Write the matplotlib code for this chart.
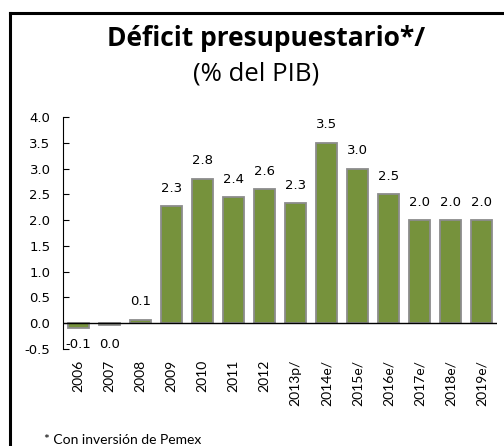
import numpy as np
import matplotlib
matplotlib.use("Agg")
import matplotlib.pyplot as plt
from matplotlib.lines import Line2D

# Deficit presupuestario (% del PIB), con inversion de Pemex
anios = ["2006", "2007", "2008", "2009", "2010", "2011", "2012",
         "2013p/", "2014e/", "2015e/", "2016e/", "2017e/", "2018e/", "2019e/"]
deficit = [-0.10, -0.03, 0.07, 2.27, 2.80, 2.44, 2.60,
           2.33, 3.50, 3.00, 2.50, 2.00, 2.00, 2.00]

VERDE = "#76923C"
GRIS = "#8C8C8C"

fig = plt.figure(figsize=(5.04, 4.46), dpi=100)
ax = fig.add_axes([0.125, 0.2175, 0.861, 0.5202])

x = np.arange(len(anios))
ax.bar(x, deficit, width=0.7, color=VERDE, edgecolor=GRIS, linewidth=1.3, zorder=2)
ax.axhline(0, color="black", linewidth=1.0, zorder=3)

for xi, v in zip(x, deficit):
    etiqueta = f"{round(v, 1) + 0.0:.1f}"
    if v < 0:
        ax.text(xi, -0.42, etiqueta, ha="center", va="center", fontsize=9.5)
    else:
        ax.text(xi, v + 0.35, etiqueta, ha="center", va="center", fontsize=9.5)

ax.set_xlim(-0.5, len(anios) - 0.5)
ax.set_ylim(-0.5, 4.0)
ax.set_yticks(np.arange(-0.5, 4.01, 0.5))
ax.set_yticklabels([f"{t:.1f}" for t in np.arange(-0.5, 4.01, 0.5)], fontsize=9.5)
ax.tick_params(axis="y", direction="in", length=4, pad=9)
ax.set_xticks(x)
ax.set_xticklabels(anios, rotation=90, fontsize=10, family="Lato")
ax.tick_params(axis="x", length=0, pad=8)
for lado in ["top", "right", "bottom"]:
    ax.spines[lado].set_visible(False)
ax.spines["left"].set_linewidth(0.8)

fig.text(0.527, 0.913, "Déficit presupuestario*/", ha="center", va="center",
         fontsize=19, fontweight="bold", family="Open Sans")
fig.text(0.508, 0.834, "(% del PIB)", ha="center", va="center",
         fontsize=18.5, family="Open Sans")
fig.text(0.088, 0.013, "* Con inversión de Pemex", ha="left", va="center",
         fontsize=10, family="Lato")

# marco del recuadro
fig.add_artist(Line2D([0.019, 1.02], [0.971, 0.971], transform=fig.transFigure,
                      color="black", linewidth=2.2))
fig.add_artist(Line2D([0.019, 0.019], [0.971, -0.02], transform=fig.transFigure,
                      color="black", linewidth=2.2))

fig.savefig("out.png", dpi=100)
